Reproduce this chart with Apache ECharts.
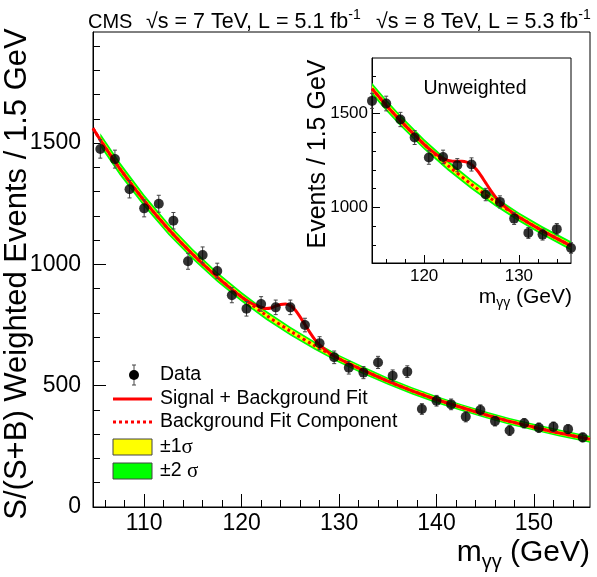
<!DOCTYPE html>
<html>
<head>
<meta charset="utf-8">
<title>CMS diphoton mass spectrum</title>
<script src="https://cdn.jsdelivr.net/npm/echarts@6/dist/echarts.min.js"></script>
<style>
html, body { margin: 0; padding: 0; background: #fff; }
#chart { width: 597px; height: 577px; }
</style>
</head>
<body>
<div id="chart"></div>
<script>
// main panel: S/(S+B) weighted events per 1.5 GeV bin
const massBins = [105.5, 107, 108.5, 110, 111.5, 113, 114.5, 116, 117.5, 119, 120.5, 122, 123.5, 125, 126.5, 128, 129.5,
    131, 132.5, 134, 135.5, 137, 138.5, 140, 141.5, 143, 144.5, 146, 147.5, 149, 150.5, 152, 153.5, 155];
const weighted = [1476, 1434, 1310, 1231, 1250, 1180, 1013, 1039, 973, 873, 817, 837, 823, 823, 750, 675, 617,
    574, 554, 596, 541, 558, 404, 438, 423, 372, 400, 354, 315, 345, 327, 331, 321, 287];
const weightedErr = [38, 37, 36, 35, 35, 34, 33, 33, 32, 31, 30, 30, 30, 30, 28, 27, 26,
    26, 25, 25, 24, 24, 22, 22, 22, 21, 21, 20, 20, 19, 19, 19, 18, 18];

// main panel fits
const fitMass = [104.75, 105.5, 107.5, 110, 112.5, 115, 117.5, 120, 122.5, 125, 127.5, 130, 132.5, 135, 137.5, 140,
    142.5, 145, 147.5, 150, 152.5, 155.75];
const bkgFit = [1561, 1513, 1395, 1263, 1145, 1041, 948, 866, 791, 725, 665, 611, 563, 519, 479, 443,
    411, 381, 353, 329, 306, 279];
const bkgBand1 = [15, 15, 14, 13, 13, 12, 11, 11, 10, 10, 9, 9, 9, 8, 8, 8, 8, 8, 8, 8, 8, 8];
const bkgBand2 = [28, 28, 27, 25, 24, 22, 21, 20, 19, 18, 17, 16, 16, 15, 15, 15, 14, 14, 14, 14, 14, 14];
const sbMass = [104.75, 105.5, 107.5, 110, 112.5, 115, 117.5, 119, 120, 121, 122, 122.5, 123, 123.5, 124, 124.5, 125,
    125.5, 126, 126.5, 127, 127.5, 128, 129, 130, 132.5, 135, 137.5, 140, 142.5, 145, 147.5, 150, 152.5, 155.75];
const sbFit = [1561, 1513, 1395, 1263, 1145, 1041, 948, 897, 866, 840, 824, 818, 820, 828, 835, 837, 830,
    812, 784, 752, 720, 691, 668, 635, 611, 563, 519, 479, 443, 411, 381, 353, 329, 306, 279];

// inset: unweighted events
const insetBins = [114.5, 116, 117.5, 119, 120.5, 122, 123.5, 125, 126.5, 128, 129.5, 131, 132.5, 134, 135.5];
const unweighted = [1567, 1553, 1468, 1372, 1266, 1269, 1225, 1229, 1069, 1030, 941, 865, 856, 885, 785];
const unweightedErr = [40, 39, 38, 37, 36, 36, 35, 35, 33, 32, 31, 29, 29, 30, 28];
const insetFitMass = [114.5, 116, 117.5, 120, 122.5, 125, 127.5, 130, 132.5, 135.5];
const insetBkg = [1632, 1544, 1462, 1336, 1224, 1123, 1032, 950, 876, 796];
const insetBand1 = [17, 17, 16, 15, 14, 14, 13, 13, 13, 13];
const insetBand2 = [32, 31, 30, 28, 27, 26, 25, 24, 24, 24];
const insetSbMass = [114.5, 116, 117.5, 120, 121, 122, 123, 124, 124.5, 125, 125.5, 126, 126.5, 127, 127.5, 128, 129, 130,
    132.5, 135.5];
const insetSb = [1632, 1544, 1462, 1336, 1293, 1260, 1246, 1246, 1241, 1228, 1203, 1170, 1131, 1093, 1058, 1029, 985, 950,
    876, 796];

// tick labels
const mainXTicks = [110, 120, 130, 140, 150];
const mainXMinor = [106, 108, 112, 114, 116, 118, 122, 124, 126, 128, 132, 134, 136, 138, 142, 144, 146, 148, 152, 154];
const mainYTicks = [0, 500, 1000, 1500];
const mainYMinor = [100, 200, 300, 400, 600, 700, 800, 900, 1100, 1200, 1300, 1400, 1600, 1700, 1800, 1900];
const insetXTicks = [120, 130];
const insetXMinor = [116, 118, 122, 124, 126, 128, 132, 134];
const insetYTicks = [1000, 1500];
const insetYMinor = [800, 900, 1100, 1200, 1300, 1400, 1600, 1700];

const FONT = '"Liberation Sans", Arial, Helvetica, sans-serif';
const RED = '#ff0000';
const YELLOW = '#ffff00';
const GREEN = '#00ff00';

const measureCtx = document.createElement('canvas').getContext('2d');
function textWidth(str, size) {
    measureCtx.font = size + 'px ' + FONT;
    return measureCtx.measureText(str).width;
}

function axisPair(gridIndex, min, max, major, minor, majorLen, minorLen, fontSize, margin, isX) {
    const line = { lineStyle: { color: '#000', width: 1 } };
    return [
        {
            type: 'value', gridIndex: gridIndex, min: min, max: max,
            position: isX ? 'bottom' : 'left',
            axisLine: Object.assign({ show: true }, line),
            axisTick: Object.assign({ show: true, inside: true, length: majorLen, customValues: major }, line),
            axisLabel: {
                show: true, customValues: major, fontSize: fontSize, fontFamily: FONT, color: '#000', margin: margin,
                formatter: v => String(v)
            },
            splitLine: { show: false }
        },
        {
            type: 'value', gridIndex: gridIndex, min: min, max: max,
            position: isX ? 'bottom' : 'left',
            axisLine: { show: false },
            axisTick: Object.assign({ show: true, inside: true, length: minorLen, customValues: minor }, line),
            axisLabel: { show: false },
            splitLine: { show: false }
        }
    ];
}

// uncertainty band drawn as one polygon through the axis scales
function bandSeries(xi, yi, xs, center, half, color, z, fromX) {
    const idx = xs.map((x, i) => i).filter(i => xs[i] >= fromX);
    const upper = idx.map(i => [xs[i], center[i] + half[i]]);
    const lower = idx.map(i => [xs[i], center[i] - half[i]]).reverse();
    return {
        type: 'custom', xAxisIndex: xi, yAxisIndex: yi, z: z, silent: true,
        data: [[xs[idx[0]], center[idx[0]]]],
        renderItem: function (params, api) {
            return {
                type: 'polygon',
                shape: { points: upper.concat(lower).map(p => api.coord(p)) },
                style: { fill: color }
            };
        }
    };
}

function errorBars(xi, yi, xs, ys, errs, z) {
    return {
        type: 'custom', xAxisIndex: xi, yAxisIndex: yi, z: z, silent: true, clip: false,
        data: xs.map((x, i) => [x, ys[i] - errs[i], ys[i] + errs[i]]),
        encode: { x: 0, y: [1, 2] },
        renderItem: function (params, api) {
            const lo = api.coord([api.value(0), api.value(1)]);
            const hi = api.coord([api.value(0), api.value(2)]);
            const st = { stroke: '#444', lineWidth: 1 };
            const c = 2;
            return {
                type: 'group',
                children: [
                    { type: 'line', shape: { x1: lo[0], y1: lo[1], x2: hi[0], y2: hi[1] }, style: st },
                    { type: 'line', shape: { x1: lo[0] - c, y1: lo[1], x2: lo[0] + c, y2: lo[1] }, style: st },
                    { type: 'line', shape: { x1: hi[0] - c, y1: hi[1], x2: hi[0] + c, y2: hi[1] }, style: st }
                ]
            };
        }
    };
}

function panelSeries(xi, yi, fx, bkg, b1, b2, sx, sb, bins, vals, errs, symSize, fromX) {
    return [
        bandSeries(xi, yi, fx, bkg, b2, GREEN, 1, fromX),
        bandSeries(xi, yi, fx, bkg, b1, YELLOW, 2, fromX),
        {
            type: 'line', xAxisIndex: xi, yAxisIndex: yi, symbol: 'none', smooth: 0.3, silent: true, z: 3,
            data: fx.map((x, i) => [x, bkg[i]]),
            lineStyle: { color: RED, width: 3, type: [3, 3] }
        }, {
            type: 'line', xAxisIndex: xi, yAxisIndex: yi, symbol: 'none', smooth: 0.3, silent: true, z: 4,
            data: sx.map((x, i) => [x, sb[i]]),
            lineStyle: { color: RED, width: 3 }
        },
        errorBars(xi, yi, bins, vals, errs, 5),
        {
            type: 'scatter', xAxisIndex: xi, yAxisIndex: yi, symbol: 'circle', symbolSize: symSize, silent: true,
            z: 6, clip: false,
            data: bins.map((x, i) => [x, vals[i]]),
            itemStyle: { color: '#000' }
        }
    ];
}

function text(x, y, str, size, extra) {
    return Object.assign({
        type: 'text', x: x, y: y,
        style: {
            text: str, fontSize: size, fontFamily: FONT, fill: '#000',
            align: 'left', verticalAlign: 'middle', textAlign: 'left', textVerticalAlign: 'middle'
        }
    }, extra || {});
}

// m with gamma-gamma subscript, right-aligned at xr
function massTitle(xr, y, size, subSize, subDrop) {
    const tail = ' (GeV)';
    const wTail = textWidth(tail, size);
    const wSub = textWidth('\u03b3\u03b3', subSize);
    const wM = textWidth('m', size);
    const x0 = xr - wTail - wSub - wM;
    return [
        text(x0, y, 'm', size),
        text(x0 + wM, y + subDrop, '\u03b3\u03b3', subSize),
        text(x0 + wM + wSub, y, tail, size)
    ];
}

// header with superscripts
const headSize = 21.5;
const seg1 = '\u221as = 7 TeV, L = 5.1 fb';
const seg2 = '\u221as = 8 TeV, L = 5.3 fb';
const header = [
    text(88, 22, 'CMS', 20),
    text(146, 22, seg1, headSize),
    text(146 + textWidth(seg1, headSize), 15, '-1', 14),
    text(376, 22, seg2, headSize),
    text(376 + textWidth(seg2, headSize), 15, '-1', 14)
];

const sigma = (pm, y) => ({
    type: 'text', x: 160, y: y,
    style: {
        text: '{a|' + pm + '}{s|\u03c3}', fill: '#000', verticalAlign: 'middle', textVerticalAlign: 'middle',
        rich: {
            a: { fontSize: 19.5, fontFamily: FONT, fill: '#000' },
            s: { fontSize: 21, fontFamily: '"Liberation Serif", "DejaVu Serif", serif', fill: '#000' }
        }
    }
});

const legend = [
    { type: 'line', shape: { x1: 134, y1: 365, x2: 134, y2: 385 }, style: { stroke: '#444', lineWidth: 1 } },
    { type: 'line', shape: { x1: 132, y1: 365, x2: 136, y2: 365 }, style: { stroke: '#444', lineWidth: 1 } },
    { type: 'line', shape: { x1: 132, y1: 385, x2: 136, y2: 385 }, style: { stroke: '#444', lineWidth: 1 } },
    { type: 'circle', shape: { cx: 134, cy: 375, r: 5 }, style: { fill: '#000' } },
    text(160, 375, 'Data', 19.5),
    { type: 'line', shape: { x1: 113, y1: 399, x2: 152, y2: 399 }, style: { stroke: RED, lineWidth: 3 } },
    text(160, 399, 'Signal + Background Fit', 19.5),
    { type: 'line', shape: { x1: 113, y1: 422, x2: 152, y2: 422 }, style: { stroke: RED, lineWidth: 3, lineDash: [3, 3] } },
    text(160, 422, 'Background Fit Component', 19.5),
    { type: 'rect', shape: { x: 113, y: 439, width: 39, height: 16 }, style: { fill: YELLOW, stroke: '#444', lineWidth: 1 } },
    sigma('\u00b11', 447),
    { type: 'rect', shape: { x: 113, y: 463, width: 39, height: 16 }, style: { fill: GREEN, stroke: '#444', lineWidth: 1 } },
    sigma('\u00b12 ', 471)
];

function centred(el) {
    el.style.align = 'center';
    el.style.textAlign = 'center';
    return el;
}

const titles = [
    centred(text(17, 274, 'S/(S+B) Weighted Events / 1.5 GeV', 31, { rotation: Math.PI / 2 })),
    centred(text(318, 154, 'Events / 1.5 GeV', 25, { rotation: Math.PI / 2 })),
    centred(text(475, 89, 'Unweighted', 19.5))
].concat(massTitle(590, 553, 30, 20, 9), massTitle(572, 297, 21, 14, 6));

const mainX = axisPair(0, 104.75, 155.75, mainXTicks, mainXMinor, 13, 7, 23, 5, true);
const mainY = axisPair(0, 0, 1958, mainYTicks, mainYMinor, 13, 7, 23, 12, false);
const insetX = axisPair(1, 114.5, 135.5, insetXTicks, insetXMinor, 8, 4, 17, 5, true);
const insetY = axisPair(1, 705, 1795, insetYTicks, insetYMinor, 8, 4, 17, 4, false);

const chart = echarts.init(document.getElementById('chart'));
chart.setOption({
    animation: false,
    backgroundColor: '#fff',
    grid: [
        { left: 93, top: 32, width: 497, height: 475, show: true, borderColor: '#000', borderWidth: 1, backgroundColor: 'transparent' },
        { left: 372, top: 58, width: 199, height: 205, show: true, borderColor: '#000', borderWidth: 1, backgroundColor: '#fff' }
    ],
    xAxis: mainX.concat(insetX),
    yAxis: mainY.concat(insetY),
    series: [].concat(
        panelSeries(0, 0, fitMass, bkgFit, bkgBand1, bkgBand2, sbMass, sbFit, massBins, weighted, weightedErr, 10, massBins[0]),
        panelSeries(2, 2, insetFitMass, insetBkg, insetBand1, insetBand2, insetSbMass, insetSb, insetBins, unweighted, unweightedErr, 10, insetFitMass[0])
    ),
    graphic: { elements: header.concat(titles, legend) }
});
</script>
</body>
</html>
